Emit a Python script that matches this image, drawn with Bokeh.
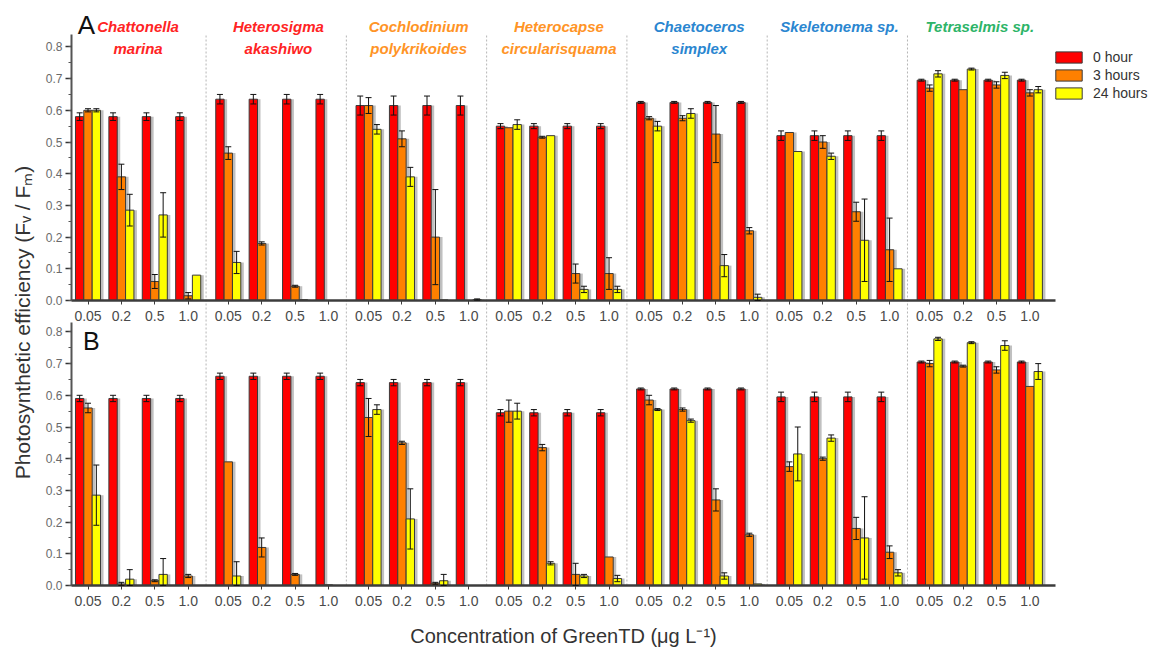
from bokeh.core.properties import value
from bokeh.embed import file_html
from bokeh.models import (ColumnDataSource, FixedTicker, Legend, LegendItem, LinearAxis,
                          NumeralTickFormatter, Range1d, SingleIntervalTicker, TeeHead, Whisker)
from bokeh.plotting import figure
from bokeh.resources import INLINE

# ---------------------------------------------------------------- data
species_name = ["Chattonella", "Heterosigma", "Cochlodinium", "Heterocapse",
                "Chaetoceros", "Skeletonema sp.", "Tetraselmis sp."]
species_epithet = ["marina", "akashiwo", "polykrikoides", "circularisquama", "simplex", "", ""]
species_color = ["#ff2424", "#ff2424", "#ff9426", "#ff9426", "#2a86d0", "#2a86d0", "#2db468"]
concentrations = ["0.05", "0.2", "0.5", "1.0"]
hours = ["0 hour", "3 hours", "24 hours"]
hour_colors = ["#ff0000", "#ff8000", "#ffff00"]

# Panel A: control (0 h) per species, then 3 h and 24 h per species x concentration
a_0h = [0.58, 0.635, 0.615, 0.55, 0.625, 0.52, 0.695]
a_0h_err = [0.012, 0.015, 0.03, 0.008, 0.003, 0.015, 0.003]
a_3h = [[0.60, 0.39, 0.06, 0.015],
        [0.465, 0.18, 0.045, 0.0],
        [0.615, 0.51, 0.20, 0.0],
        [0.545, 0.515, 0.085, 0.085],
        [0.575, 0.575, 0.525, 0.22],
        [0.53, 0.50, 0.28, 0.16],
        [0.67, 0.665, 0.68, 0.655]]
a_3h_err = [[0.005, 0.04, 0.022, 0.01],
            [0.02, 0.005, 0.003, 0.0],
            [0.025, 0.025, 0.15, 0.0],
            [0.0, 0.003, 0.03, 0.05],
            [0.005, 0.008, 0.09, 0.01],
            [0.0, 0.02, 0.03, 0.1],
            [0.01, 0.0, 0.01, 0.01]]
a_24h = [[0.60, 0.285, 0.27, 0.08],
         [0.12, 0.0, 0.003, 0.0],
         [0.54, 0.39, 0.002, 0.003],
         [0.555, 0.52, 0.035, 0.035],
         [0.55, 0.59, 0.11, 0.01],
         [0.47, 0.455, 0.19, 0.10],
         [0.715, 0.73, 0.71, 0.665]]
a_24h_err = [[0.005, 0.05, 0.07, 0.0],
             [0.035, 0.0, 0.0, 0.0],
             [0.015, 0.03, 0.0, 0.002],
             [0.015, 0.0, 0.01, 0.01],
             [0.015, 0.015, 0.035, 0.01],
             [0.0, 0.01, 0.13, 0.0],
             [0.01, 0.003, 0.01, 0.01]]

# Panel B
b_0h = [0.59, 0.66, 0.64, 0.545, 0.62, 0.595, 0.705]
b_0h_err = [0.01, 0.01, 0.01, 0.01, 0.003, 0.015, 0.003]
b_3h = [[0.56, 0.005, 0.015, 0.03],
        [0.39, 0.12, 0.035, 0.002],
        [0.53, 0.45, 0.007, 0.0],
        [0.55, 0.435, 0.035, 0.09],
        [0.585, 0.555, 0.27, 0.16],
        [0.375, 0.40, 0.18, 0.105],
        [0.70, 0.692, 0.68, 0.628]]
b_3h_err = [[0.015, 0.005, 0.003, 0.005],
            [0.0, 0.03, 0.003, 0.0],
            [0.06, 0.005, 0.003, 0.0],
            [0.035, 0.01, 0.035, 0.0],
            [0.015, 0.005, 0.035, 0.005],
            [0.015, 0.005, 0.035, 0.02],
            [0.01, 0.003, 0.01, 0.0]]
b_24h = [[0.285, 0.02, 0.035, 0.0],
         [0.03, 0.0, 0.0, 0.0],
         [0.555, 0.21, 0.015, 0.0],
         [0.55, 0.07, 0.03, 0.022],
         [0.555, 0.52, 0.03, 0.005],
         [0.415, 0.465, 0.15, 0.04],
         [0.778, 0.766, 0.757, 0.675]]
b_24h_err = [[0.095, 0.03, 0.05, 0.0],
             [0.045, 0.0, 0.0, 0.0],
             [0.015, 0.095, 0.02, 0.0],
             [0.025, 0.005, 0.005, 0.01],
             [0.003, 0.005, 0.01, 0.0],
             [0.085, 0.01, 0.13, 0.01],
             [0.005, 0.003, 0.015, 0.025]]

# ---------------------------------------------------------------- layout
W, H = 1157, 651
AXIS_PX = 71           # pixel column of the y axes
PX_X = 33.4            # pixels per concentration step
X0_PX = 87.5           # pixel position of the first group centre
SPECIES_STEP = 4.2     # distance between species blocks (in concentration steps)
SEP_OFFSET = 3.535     # dotted separator position inside a block
BAR_W = 0.25
SHADOW_DX = 0.09
PX_Y = 317             # pixels per unit of Fv/Fm
A_ZERO_PX, B_ZERO_PX = 300, 585
A_TOP, B_TOP = 0.84, 0.83
FONT_NAME = "Liberation Sans"
FONT = value(FONT_NAME)

x_start = -X0_PX / PX_X
x_end = x_start + W / PX_X
x_axis_start = (AXIS_PX - X0_PX) / PX_X
x_axis_end = (1055 - X0_PX) / PX_X
b_to_a = -(B_ZERO_PX - A_ZERO_PX) / PX_Y   # panel B baseline in panel A units

group_x = [s * SPECIES_STEP + c for s in range(len(species_name)) for c in range(len(concentrations))]

p = figure(width=W, height=H, output_backend="svg", toolbar_location=None, tools="",
           x_range=Range1d(x_start, x_end),
           y_range=Range1d(-(H - B_ZERO_PX) / PX_Y, B_ZERO_PX / PX_Y),
           x_axis_type=None, y_axis_type=None,
           min_border_left=0, min_border_right=0, min_border_top=0, min_border_bottom=0,
           outline_line_color=None, background_fill_color="white", border_fill_color="white")
p.extra_y_ranges = {"A": Range1d(-(H - A_ZERO_PX) / PX_Y, A_ZERO_PX / PX_Y)}

# dotted separators between species, running through both panels
sep_x = [s * SPECIES_STEP + SEP_OFFSET for s in range(len(species_name) - 1)]
p.segment(x0=sep_x, x1=sep_x, y0=[b_to_a] * len(sep_x), y1=[A_TOP] * len(sep_x),
          y_range_name="A", line_color="#b5b5b5", line_width=1, line_dash="2 2")


def flatten(rows):
    return [v for row in rows for v in row]


def draw_panel(rn, ctrl, ctrl_err, v3, e3, v24, e24):
    n_conc = len(concentrations)
    series = [([v for v in ctrl for _ in range(n_conc)], [e for e in ctrl_err for _ in range(n_conc)]),
              (flatten(v3), flatten(e3)),
              (flatten(v24), flatten(e24))]
    # soft drop shadows behind the bars
    for k, (vals, _) in enumerate(series):
        xs = [g + (k - 1) * BAR_W + SHADOW_DX for g in group_x]
        p.vbar(x=xs, top=vals, bottom=0, width=BAR_W, fill_color="#8c8c8c", fill_alpha=0.55,
               line_color=None, y_range_name=rn)
    renderers = []
    for k, (vals, errs) in enumerate(series):
        xs = [g + (k - 1) * BAR_W for g in group_x]
        r = p.vbar(x=xs, top=vals, bottom=0, width=BAR_W, fill_color=hour_colors[k],
                   line_color="#3a3a3a", line_width=1, y_range_name=rn)
        renderers.append(r)
        keep = [i for i, e in enumerate(errs) if e > 0]
        src = ColumnDataSource(dict(base=[xs[i] for i in keep],
                                    upper=[vals[i] + errs[i] for i in keep],
                                    lower=[max(0.0, vals[i] - errs[i]) for i in keep]))
        p.add_layout(Whisker(source=src, base="base", upper="upper", lower="lower",
                             y_range_name=rn, level="annotation",
                             line_color="#111111", line_width=1,
                             upper_head=TeeHead(size=6, line_color="#111111", line_width=1),
                             lower_head=TeeHead(size=6, line_color="#111111", line_width=1)))
    return renderers


a_renderers = draw_panel("A", a_0h, a_0h_err, a_3h, a_3h_err, a_24h, a_24h_err)
draw_panel("default", b_0h, b_0h_err, b_3h, b_3h_err, b_24h, b_24h_err)

# ---------------------------------------------------------------- axes
conc_labels = {gx: concentrations[i % len(concentrations)] for i, gx in enumerate(group_x)}


def x_axis(rn, label=None):
    ax = LinearAxis(y_range_name=rn, fixed_location=0, bounds=(x_axis_start, x_axis_end),
                    ticker=FixedTicker(ticks=group_x, minor_ticks=[]),
                    major_label_overrides=conc_labels,
                    axis_line_color="#3c3c3c", axis_line_width=2.5,
                    major_tick_out=4, major_tick_in=0, major_tick_line_color="#3c3c3c",
                    minor_tick_line_color=None, major_label_standoff=6,
                    major_label_text_font=FONT_NAME, major_label_text_font_size="14px",
                    major_label_text_color="#4a4a4a")
    if label:
        ax.axis_label = label
        ax.axis_label_standoff = 16
        ax.axis_label_text_font = FONT_NAME
        ax.axis_label_text_font_size = "20px"
        ax.axis_label_text_font_style = "normal"
        ax.axis_label_text_color = "#333333"
    p.add_layout(ax, "below")


def y_axis(rn, top):
    ax = LinearAxis(y_range_name=rn, fixed_location=x_axis_start, bounds=(0, top),
                    ticker=SingleIntervalTicker(interval=0.1, num_minor_ticks=2),
                    formatter=NumeralTickFormatter(format="0.0"),
                    axis_line_color="#555555", axis_line_width=2,
                    major_tick_out=6, major_tick_in=0, major_tick_line_color="#333333",
                    major_tick_line_width=1.5,
                    minor_tick_out=3, minor_tick_in=0, minor_tick_line_color="#555555",
                    major_label_standoff=3, major_label_text_font=FONT_NAME,
                    major_label_text_font_size="12px", major_label_text_color="#6a6a6a")
    p.add_layout(ax, "left")


x_axis("A")
x_axis("default", "Concentration of GreenTD (\u03bcg L\u207b\u00b9)")
y_axis("A", A_TOP)
y_axis("default", B_TOP)

# shared y-axis title, centred over both panels
title_axis = LinearAxis(y_range_name="A", fixed_location=x_axis_start,
                        bounds=(b_to_a - 0.08, A_TOP),
                        ticker=FixedTicker(ticks=[], minor_ticks=[]),
                        axis_line_color=None, major_tick_line_color=None,
                        minor_tick_line_color=None, major_tick_out=0, minor_tick_out=0,
                        axis_label="Photosynthetic efficiency (F\u1d65 / F\u2098)",
                        axis_label_standoff=38, axis_label_text_font=FONT_NAME,
                        axis_label_text_font_size="21px", axis_label_text_font_style="normal",
                        axis_label_text_color="#333333")
p.add_layout(title_axis, "left")

# ---------------------------------------------------------------- annotations
label_texts = [n + ("\n" + e if e else "") for n, e in zip(species_name, species_epithet)]
label_x = [s * SPECIES_STEP + 1.5 for s in range(len(species_name))]
p.text(x=label_x, y=[0.89] * len(label_x), text=label_texts, y_range_name="A",
       text_color=species_color, text_font=FONT, text_font_size="15px",
       text_font_style="bold italic", text_align="center", text_baseline="top",
       text_line_height=1.25)

p.text(x=[-0.05], y=[0.868], text=["A"], y_range_name="A", text_font=FONT,
       text_font_size="26px", text_align="center", text_baseline="middle", text_color="#111111")
p.text(x=[0.1], y=[0.77], text=["B"], text_font=FONT,
       text_font_size="25px", text_align="center", text_baseline="middle", text_color="#111111")

legend = Legend(items=[LegendItem(label=h, renderers=[r]) for h, r in zip(hours, a_renderers)],
                location=(1052, H - 101), orientation="vertical",
                glyph_width=33, glyph_height=14, label_height=14, label_standoff=8,
                spacing=2, padding=0, margin=0, border_line_color=None,
                background_fill_alpha=0.0, label_text_font=FONT_NAME,
                label_text_font_size="14px", label_text_color="#333333")
p.add_layout(legend)

open("out.html", "w").write(file_html(p, INLINE))
